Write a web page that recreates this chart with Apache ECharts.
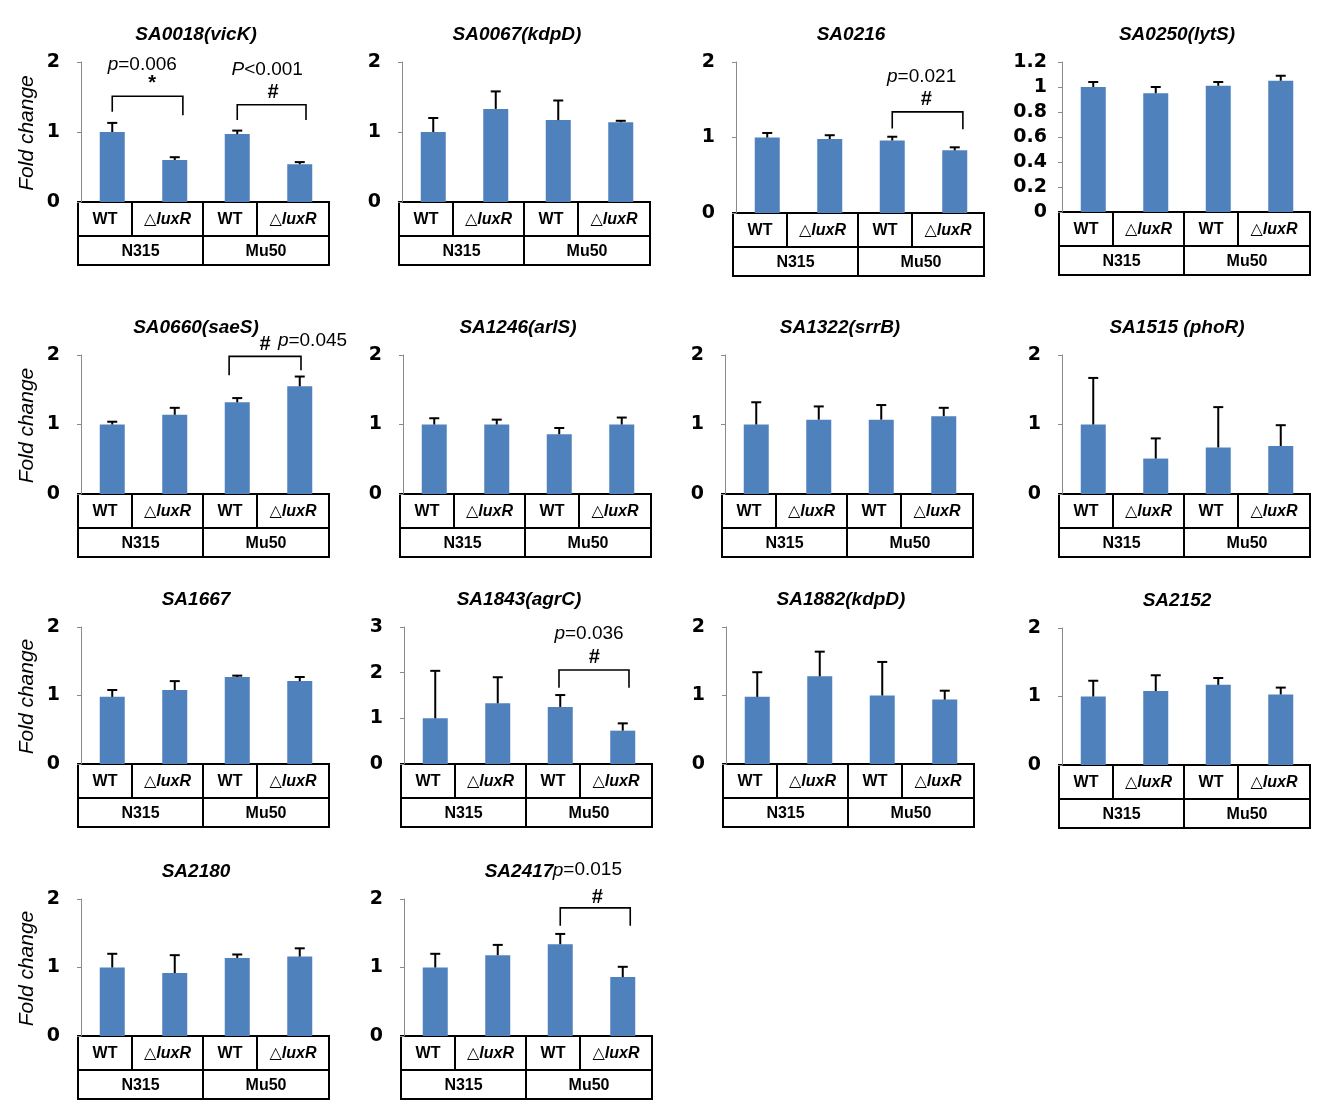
<!DOCTYPE html>
<html><head><meta charset="utf-8">
<script src="https://cdn.jsdelivr.net/npm/echarts@6/dist/echarts.min.js"></script>
<style>html,body{margin:0;padding:0;background:#fff}#c{width:1336px;height:1110px}</style>
</head><body><div id="c"></div>
<script>
// ---------- data ----------
const genes = ['SA0018(vicK)','SA0067(kdpD)','SA0216','SA0250(lytS)','SA0660(saeS)','SA1246(arlS)','SA1322(srrB)','SA1515 (phoR)','SA1667','SA1843(agrC)','SA1882(kdpD)','SA2152','SA2180','SA2417'];
const groups = ['WT','luxR','WT','luxR'];          // luxR columns are drawn with a leading △
const strains = ['N315','Mu50'];
const yAxisTitle = 'Fold change';
const means = [
 [1.00,0.60,0.97,0.54],
 [1.00,1.33,1.17,1.14],
 [1.00,0.98,0.96,0.83],
 [1.00,0.95,1.01,1.05],
 [1.00,1.14,1.32,1.55],
 [1.00,1.00,0.86,1.00],
 [1.00,1.07,1.07,1.12],
 [1.00,0.51,0.67,0.69],
 [0.98,1.08,1.27,1.21],
 [1.00,1.33,1.25,0.73],
 [0.98,1.28,1.00,0.94],
 [1.00,1.08,1.17,1.03],
 [1.00,0.92,1.14,1.16],
 [1.00,1.18,1.34,0.86]
];
const errors = [
 [0.13,0.04,0.05,0.03],
 [0.20,0.25,0.28,0.02],
 [0.06,0.05,0.05,0.04],
 [0.04,0.05,0.03,0.04],
 [0.04,0.10,0.06,0.14],
 [0.09,0.07,0.09,0.10],
 [0.32,0.19,0.21,0.12],
 [0.67,0.29,0.58,0.30],
 [0.10,0.13,0.02,0.06],
 [1.04,0.57,0.26,0.16],
 [0.36,0.36,0.49,0.13],
 [0.23,0.23,0.10,0.10],
 [0.20,0.26,0.05,0.12],
 [0.20,0.15,0.15,0.15]
];
const yMax  = [2,2,2,1.2,2,2,2,2,2,3,2,2,2,2];
const yStep = [1,1,1,0.2,1,1,1,1,1,1,1,1,1,1];
// brackets: panel, x1, x2, top value, left leg end, right leg end
const brackets = [
 [0, 0.00, 1.13, 1.51, 1.29, 1.24],
 [0, 2.00, 3.10, 1.39, 1.17, 1.17],
 [2, 2.00, 3.13, 1.34, 1.12, 1.11],
 [4, 1.87, 3.02, 1.98, 1.71, 1.78],
 [9, 1.98, 3.10, 2.06, 1.67, 1.67],
 [13, 2.00, 3.12, 1.87, 1.61, 1.61]
];
// p labels: panel, x, y, italic letter, rest, align
const pLabels = [
 [0, 0.48, 1.96, 'p', '=0.006', 'center'],
 [0, 2.48, 1.89, 'P', '<0.001', 'center'],
 [2, 2.47, 1.80, 'p', '=0.021', 'center'],
 [4, 2.65, 2.21, 'p', '=0.045', 'left'],
 [9, 2.46, 2.85, 'p', '=0.036', 'center'],
 [13, 1.88, 2.42, 'p', '=0.015', 'left']
];
// significance marks: panel, x, y, symbol
const sigMarks = [
 [0, 0.64, 1.70, '*'],
 [0, 2.57, 1.56, '#'],
 [2, 2.54, 1.50, '#'],
 [4, 2.44, 2.15, '#'],
 [9, 2.54, 2.34, '#'],
 [13, 2.59, 2.02, '#']
];

// ---------- layout ----------
const layout = [ // grid left, top, bottom (px)
 [81,62,202],[402,62,202],[736,62,213],[1062,62,212],
 [81,355,494],[403,355,494],[725,355,494],[1062,355,494],
 [81,627,764],[404,627,764],[726,627,764],[1062,628,765],
 [81,899,1036],[404,899,1036]
];
const GW = 250;
const FONT = '"Liberation Sans", Arial, "Noto Sans CJK KR", sans-serif';
const BLUE = '#4F81BD';

function errRender(params, api){
  const x = api.value(0), v = api.value(1), e = api.value(2);
  const p0 = api.coord([x, v]), p1 = api.coord([x, v + e]);
  const st = {stroke:'#000', lineWidth:2};
  return {type:'group', children:[
    {type:'line', shape:{x1:p0[0], y1:p0[1], x2:p1[0], y2:p1[1]}, style:st},
    {type:'line', shape:{x1:p1[0]-5, y1:p1[1], x2:p1[0]+5, y2:p1[1]}, style:st}
  ]};
}
function bracketRender(params, api){
  const x1 = api.value(0), x2 = api.value(1), t = api.value(2), l = api.value(3), r = api.value(4);
  const a = api.coord([x1, l]), b = api.coord([x1, t]), c = api.coord([x2, t]), d = api.coord([x2, r]);
  return {type:'polyline', shape:{points:[a,b,c,d]}, style:{stroke:'#000', lineWidth:1.6, fill:null}};
}

const grids=[], xAxes=[], yAxes=[], series=[], graphics=[];
genes.forEach((g,i)=>{
  const [L,T,B] = layout[i];
  grids.push({left:L, top:T, width:GW, height:B-T, outerBoundsMode:'none'});
  xAxes.push({gridIndex:i, type:'value', min:-0.5, max:3.5, show:false});
  yAxes.push({gridIndex:i, type:'value', min:0, max:yMax[i], interval:yStep[i],
    axisLine:{show:true, onZero:false, lineStyle:{color:'#8a8a8a', width:1}},
    axisTick:{show:true, length:4, lineStyle:{color:'#8a8a8a'}},
    splitLine:{show:false},
    axisLabel:{fontSize:19, fontWeight:'bold', color:'#000', fontFamily:'"DejaVu Sans", sans-serif', margin: i===3 ? 15 : 21}});
  series.push({type:'bar', xAxisIndex:i, yAxisIndex:i, barWidth:25, silent:true,
    data: means[i].map((v,k)=>[k,v]), itemStyle:{color:BLUE}});
  series.push({type:'custom', xAxisIndex:i, yAxisIndex:i, z:3, silent:true,
    encode:{x:0, y:1},
    data: means[i].map((v,k)=>[k, v, errors[i][k]]), renderItem: errRender});
  const br = brackets.filter(b=>b[0]===i);
  if (br.length) series.push({type:'custom', xAxisIndex:i, yAxisIndex:i, z:4, silent:true, clip:false,
    encode:{x:0, y:2}, data: br.map(b=>b.slice(1)), renderItem: bracketRender});
  const pl = pLabels.filter(p=>p[0]===i);
  if (pl.length) series.push({type:'custom', xAxisIndex:i, yAxisIndex:i, z:4, silent:true, clip:false,
    encode:{x:0, y:1}, data: pl.map(p=>[p[1],p[2]]),
    renderItem:(params, api)=>{
      const d = pl[params.dataIndex];
      const pt = api.coord([api.value(0), api.value(1)]);
      return {type:'text', x:pt[0], y:pt[1], style:{text:'{i|'+d[3]+'}{n|'+d[4]+'}',
        rich:{i:{fontStyle:'italic', fontSize:19, fontFamily:FONT, fill:'#000'}, n:{fontSize:19, fontFamily:FONT, fill:'#000'}},
        align:d[5], verticalAlign:'middle', fill:'#000'}};
    }});
  const sm = sigMarks.filter(s=>s[0]===i);
  if (sm.length) series.push({type:'custom', xAxisIndex:i, yAxisIndex:i, z:4, silent:true, clip:false,
    encode:{x:0, y:1}, data: sm.map(s=>[s[1],s[2]]),
    renderItem:(params, api)=>{
      const d = sm[params.dataIndex];
      const pt = api.coord([api.value(0), api.value(1)]);
      return {type:'text', x:pt[0], y:pt[1], style:{text:d[3], font:(d[3]==='#'?'italic ':'')+'bold 20px '+FONT,
        align:'center', verticalAlign:'middle', fill:'#000'}};
    }});

  // title
  graphics.push({type:'text', x:L+GW/2-10, y:T-27, style:{text:g, font:'italic bold 19px '+FONT, fill:'#000', align:'center', verticalAlign:'middle'}});
  // y axis title for first column
  if (L < 100) graphics.push({type:'text', x:27, y:(T+B)/2+1, rotation:Math.PI/2,
    style:{text:yAxisTitle, font:'italic 21px '+FONT, fill:'#000', align:'center', verticalAlign:'middle'}});
  // table
  const tx = L-3, tw = 251, r1 = 34, r2 = 29;
  const cw = [54, 71, 54, 72];
  const ln = (x1,y1,x2,y2)=>graphics.push({type:'line', shape:{x1,y1,x2,y2}, style:{stroke:'#000', lineWidth:2}});
  graphics.push({type:'rect', shape:{x:tx, y:B, width:tw, height:r1+r2}, style:{fill:'#fff', stroke:'#000', lineWidth:2}});
  ln(tx, B+r1, tx+tw, B+r1);
  let cx = tx;
  groups.forEach((grp,k)=>{
    const mid = cx + cw[k]/2;
    const txt = grp==='WT' ? '{b|WT}' : '{t|△}{it|'+grp+'}';
    graphics.push({type:'text', x:mid, y:B+r1/2+1, style:{text:txt,
      rich:{b:{font:'bold 16px '+FONT, fill:'#000'}, t:{font:'16px "DejaVu Sans", sans-serif', fill:'#000'}, it:{font:'italic bold 16px '+FONT, fill:'#000'}},
      align:'center', verticalAlign:'middle'}});
    cx += cw[k];
    if (k<3) ln(cx, B, cx, k===1 ? B+r1+r2 : B+r1);
  });
  strains.forEach((s,k)=>{
    const x0 = tx + (k===0 ? 0 : cw[0]+cw[1]);
    const w = k===0 ? cw[0]+cw[1] : cw[2]+cw[3];
    graphics.push({type:'text', x:x0+w/2, y:B+r1+r2/2+1, style:{text:s, font:'bold 16px '+FONT, fill:'#000', align:'center', verticalAlign:'middle'}});
  });
});

const chart = echarts.init(document.getElementById('c'));
chart.setOption({
  animation:false,
  backgroundColor:'#fff',
  grid:grids, xAxis:xAxes, yAxis:yAxes, series:series, graphic:graphics
});
</script></body></html>
